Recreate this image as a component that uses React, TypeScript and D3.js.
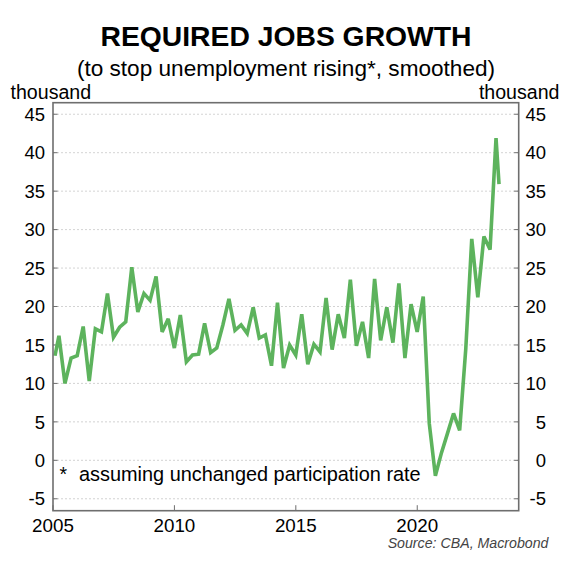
import React from 'react';
import * as d3 from 'd3';

const title = 'REQUIRED JOBS GROWTH';
const subtitle = '(to stop unemployment rising*, smoothed)';
const unitLabel = 'thousand';
const footnote = 'assuming unchanged participation rate';
const source = 'Source: CBA, Macrobond';

const yTicks = [45, 40, 35, 30, 25, 20, 15, 10, 5, 0, -5];
const xTicks = [2005, 2010, 2015, 2020];

// first reading is January 2005, then quarter ends 2005Q1..2023Q1, then the latest reading
const firstObs = '2005-01-31';
const quarterStartYear = 2005;
const quarterCount = 73;
const latestObs = '2023-05-15';

const jobsGrowth = [
    13.6, 16.2, 10.0, 13.3, 13.6, 17.4, 10.3, 17.1, 16.7, 21.7,
    16.0, 17.3, 18.0, 25.1, 19.3, 21.7, 20.8, 23.9, 16.7, 18.4,
    14.6, 18.9, 12.8, 13.7, 13.8, 17.8, 14.0, 14.6, 17.6, 21.0,
    16.9, 17.6, 16.5, 19.9, 15.9, 16.3, 12.3, 20.5, 12.0, 15.0,
    13.7, 19.0, 12.5, 15.1, 14.1, 21.1, 14.4, 19.0, 15.9, 23.5,
    14.9, 18.0, 13.3, 23.6, 15.6, 19.9, 15.3, 23.0, 13.3, 20.3,
    16.7, 21.3, 4.8, -2.0, 1.0, 3.5, 6.1, 3.9, 14.5, 28.8,
    21.2, 29.1, 27.4, 41.9, 35.9
];

const font = '"Liberation Sans", Arial, sans-serif';

export default function App() {
    const width = 572, height = 561;
    // plot box
    const left = 53, right = 518.7, top = 102.7, bottom = 510.7;

    const parse = d3.utcParse('%Y-%m-%d');
    const quarterEnds = d3.range(quarterCount).map(q => new Date(Date.UTC(quarterStartYear, 3 + q * 3, 0)));
    const dates = [parse(firstObs) as Date, ...quarterEnds, parse(latestObs) as Date];
    const points: [Date, number][] = dates.map((d, i) => [d, jobsGrowth[i]]);

    const x = d3.scaleUtc()
        .domain([new Date(Date.UTC(2005, 0, 1)), new Date(Date.UTC(2024, 2, 6))])
        .range([left, right]);
    const y = d3.scaleLinear().domain([-6.55, 46.5]).range([bottom, top]);

    const line = d3.line<[Date, number]>()
        .x(d => x(d[0]))
        .y(d => y(d[1]));

    const axisColor = '#6e6e6e';

    return (
        <div style={{ position: 'absolute', left: 0, top: 0 }}>
            <svg width={width} height={height} style={{ display: 'block', fontFamily: font }}>
                <rect width={width} height={height} fill="#fff" />
                <text x={286} y={45.5} textAnchor="middle" fontSize={28.3} fontWeight="bold" fill="#000">{title}</text>
                <text x={286} y={76} textAnchor="middle" fontSize={22.6} fill="#000">{subtitle}</text>
                <text x={10.5} y={98.5} fontSize={19.6} fill="#000">{unitLabel}</text>
                <text x={559.5} y={98.5} fontSize={19.6} textAnchor="end" fill="#000">{unitLabel}</text>

                {/* grid */}
                {yTicks.map(t => (
                    <line key={'g' + t} x1={left} x2={right} y1={y(t)} y2={y(t)}
                        stroke="#c8c8c8" strokeWidth={0.8} strokeDasharray="2,2" />
                ))}

                {/* y ticks + labels */}
                {yTicks.map(t => (
                    <g key={'y' + t}>
                        <line x1={left} x2={left + 4.5} y1={y(t)} y2={y(t)} stroke={axisColor} strokeWidth={1} />
                        <line x1={right - 4.5} x2={right} y1={y(t)} y2={y(t)} stroke={axisColor} strokeWidth={1} />
                        <text x={45} y={y(t)} dy="0.36em" textAnchor="end" fontSize={18.5} fill="#000">{t}</text>
                        <text x={546} y={y(t)} dy="0.36em" textAnchor="end" fontSize={18.5} fill="#000">{t}</text>
                    </g>
                ))}

                {/* x ticks + labels */}
                {xTicks.map(t => {
                    const xp = x(new Date(Date.UTC(t, 0, 1)));
                    return (
                        <g key={'x' + t}>
                            <line x1={xp} x2={xp} y1={bottom} y2={bottom - 5.5} stroke={axisColor} strokeWidth={1} />
                            <text x={xp} y={532} textAnchor="middle" fontSize={18.8} fill="#000">{t}</text>
                        </g>
                    );
                })}

                {/* footnote */}
                <text x={59.5} y={481} fontSize={19.5} fill="#000">*</text>
                <text x={79} y={481} fontSize={19.9} fill="#000">{footnote}</text>

                <path d={line(points) || ''} fill="none" stroke="#5db35d" strokeWidth={3.6}
                    strokeLinejoin="miter" strokeMiterlimit={3} />

                <rect x={left} y={top} width={right - left} height={bottom - top}
                    fill="none" stroke={axisColor} strokeWidth={1.6} />

                <text x={548.5} y={547.5} textAnchor="end" fontSize={14.2} fontStyle="italic" fill="#444">{source}</text>
            </svg>
        </div>
    );
}
